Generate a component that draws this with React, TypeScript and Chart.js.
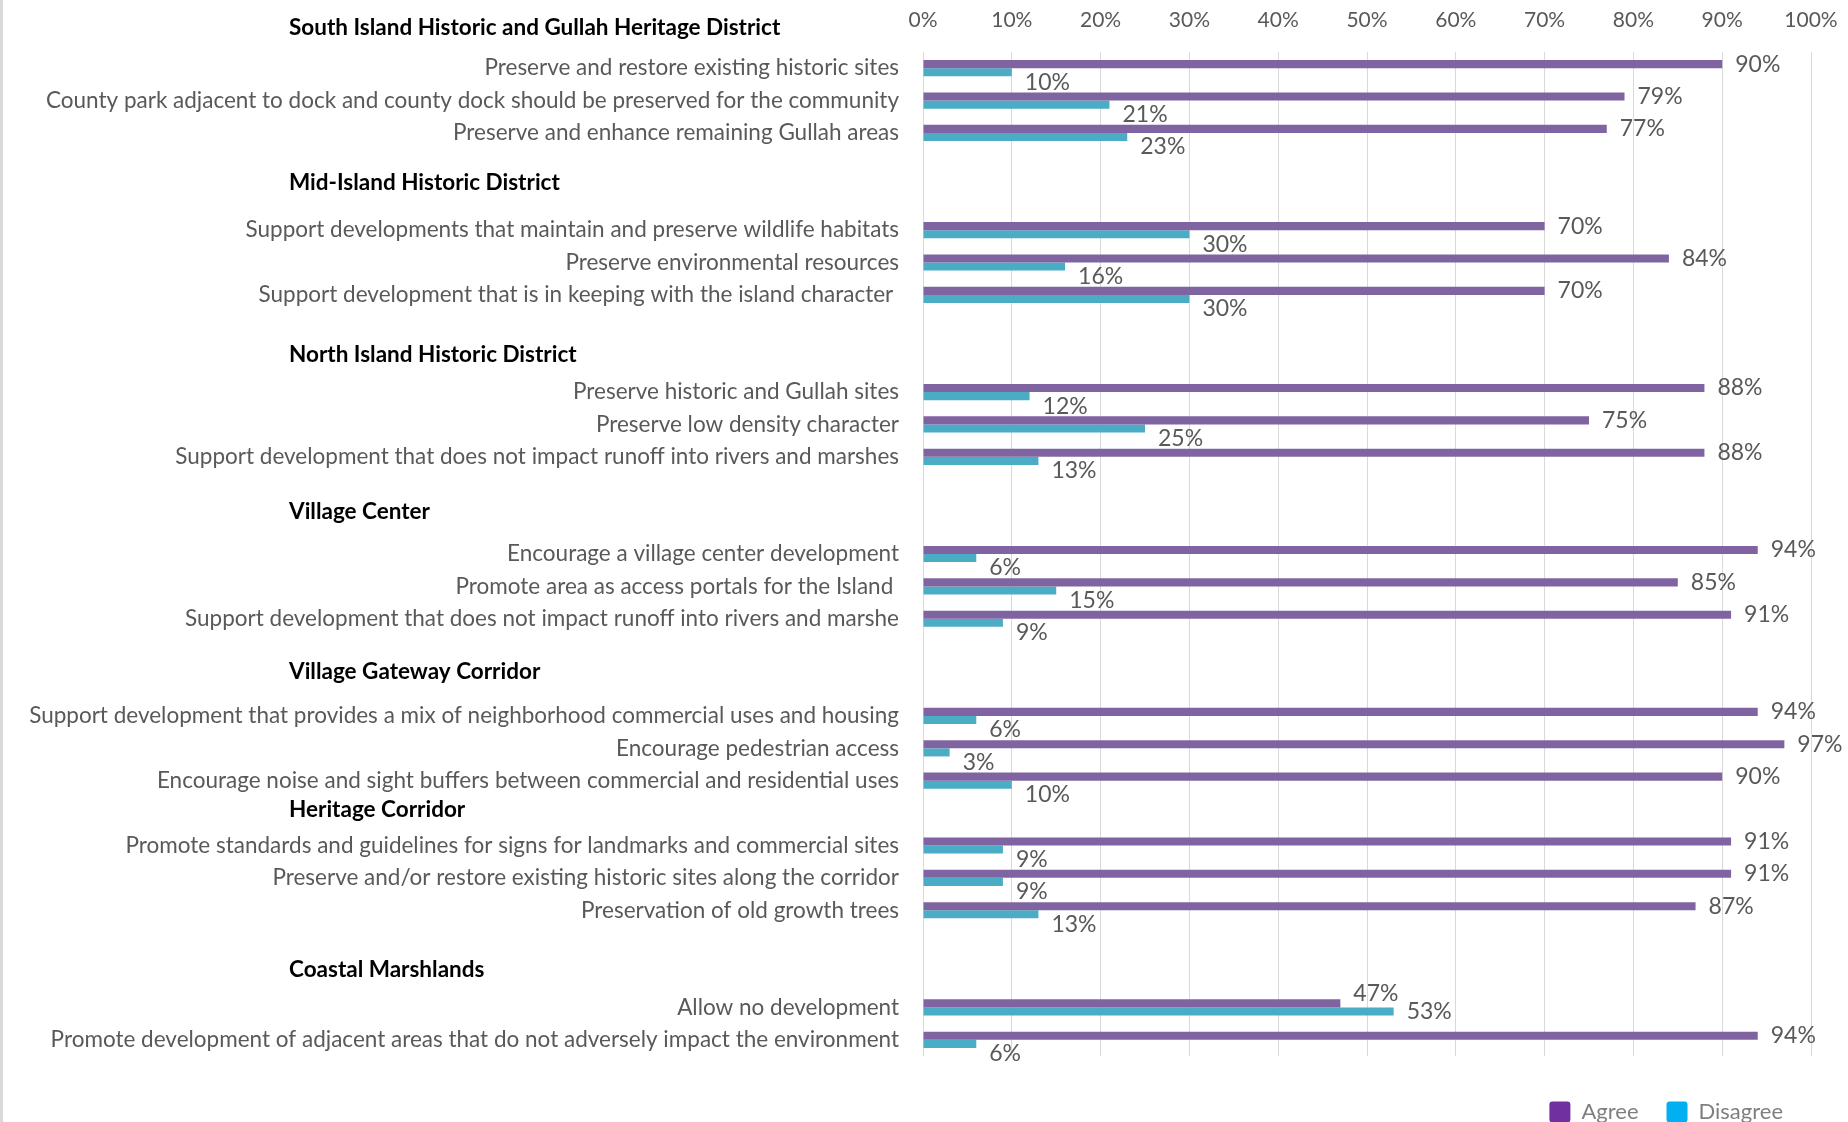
import React, { useEffect, useRef } from 'react';
import { Chart, registerables } from 'chart.js';

Chart.register(...registerables);

// ---- data ----
const categories: string[] = [
  'Preserve and restore existing historic sites',
  'County park adjacent to dock and county dock should be preserved for the community',
  'Preserve and enhance remaining Gullah areas',
  '',
  '',
  'Support developments that maintain and preserve wildlife habitats',
  'Preserve environmental resources',
  'Support development that is in keeping with the island character ',
  '',
  '',
  'Preserve historic and Gullah sites',
  'Preserve low density character',
  'Support development that does not impact runoff into rivers and marshes',
  '',
  '',
  'Encourage a village center development',
  'Promote area as access portals for the Island ',
  'Support development that does not impact runoff into rivers and marshe',
  '',
  '',
  'Support development that provides a mix of neighborhood commercial uses and housing',
  'Encourage pedestrian access',
  'Encourage noise and sight buffers between commercial and residential uses',
  '',
  'Promote standards and guidelines for signs for landmarks and commercial sites',
  'Preserve and/or restore existing historic sites along the corridor',
  'Preservation of old growth trees',
  '',
  '',
  'Allow no development',
  'Promote development of adjacent areas that do not adversely impact the environment',
];

const agree: (number | null)[] = [
  90, 79, 77, null, null, 70, 84, 70, null, null, 88, 75, 88, null, null,
  94, 85, 91, null, null, 94, 97, 90, null, 91, 91, 87, null, null, 47, 94,
];

const disagree: (number | null)[] = [
  10, 21, 23, null, null, 30, 16, 30, null, null, 12, 25, 13, null, null,
  6, 15, 9, null, null, 6, 3, 10, null, 9, 9, 13, null, null, 53, 6,
];

const sectionTitles: string[] = [
  'South Island Historic and Gullah Heritage District',
  'Mid-Island Historic District',
  'North Island Historic District',
  'Village Center',
  'Village Gateway Corridor',
  'Heritage Corridor',
  'Coastal Marshlands',
];
// category-axis value at which each section title sits
const sectionRows: number[] = [-1.25, 3.55, 8.85, 13.7, 18.65, 22.9, 27.85];

const seriesNames = ['Agree', 'Disagree'];
const xTicks = [0, 10, 20, 30, 40, 50, 60, 70, 80, 90, 100];

// ---- style ----
const BAR_COLORS = ['#8064A2', '#4BACC6'];
const LEGEND_COLORS = ['#7030A0', '#00B0F0'];
const FONT = 'Lato';
const TEXT_GRAY = '#595959';

const W = 1848;
const H = 1133;

const overlayPlugin = {
  id: 'overlay',
  beforeDraw(chart: any) {
    const { ctx } = chart;
    ctx.save();
    ctx.fillStyle = '#d9d9d9';
    ctx.fillRect(0, 0, 3, chart.height);
    ctx.restore();
  },
  afterDatasetsDraw(chart: any) {
    const { ctx } = chart;
    ctx.save();
    ctx.font = `23px ${FONT}`;
    ctx.fillStyle = TEXT_GRAY;
    ctx.textAlign = 'left';
    ctx.textBaseline = 'middle';
    chart.data.datasets.forEach((ds: any, di: number) => {
      const meta = chart.getDatasetMeta(di);
      meta.data.forEach((el: any, i: number) => {
        const v = ds.data[i];
        if (v == null) return;
        const a = agree[i] as number;
        const d = disagree[i] as number;
        let dy: number;
        if (di === 0) dy = a < d ? -10 : 0;
        else dy = a < d ? 0 : 10;
        ctx.fillText(`${v}%`, el.x + 13, el.y + dy);
      });
    });
    ctx.restore();
  },
  afterDraw(chart: any) {
    const { ctx } = chart;
    const yScale = chart.scales.y;
    ctx.save();
    ctx.font = `bold 22.5px ${FONT}`;
    ctx.fillStyle = '#000000';
    ctx.textAlign = 'left';
    ctx.textBaseline = 'middle';
    sectionTitles.forEach((t, i) => {
      ctx.fillText(t, 289, yScale.getPixelForValue(sectionRows[i]));
    });
    ctx.restore();
  },
};

export default function App() {
  const ref = useRef<HTMLCanvasElement | null>(null);

  useEffect(() => {
    document.body.style.margin = '0';
    document.body.style.overflow = 'hidden';
    document.documentElement.style.overflow = 'hidden';
    const canvas = ref.current;
    if (!canvas) return;
    const chart = new Chart(canvas, {
      type: 'bar',
      data: {
        labels: categories,
        datasets: [
          {
            label: seriesNames[0],
            data: agree,
            backgroundColor: BAR_COLORS[0],
            categoryPercentage: 0.5,
            barPercentage: 1.0,
          },
          {
            label: seriesNames[1],
            data: disagree,
            backgroundColor: BAR_COLORS[1],
            categoryPercentage: 0.5,
            barPercentage: 1.0,
          },
        ],
      },
      options: {
        indexAxis: 'y',
        responsive: true,
        maintainAspectRatio: false,
        animation: false,
        layout: { padding: { top: 0, left: 0, right: 37, bottom: 0 } },
        scales: {
          x: {
            position: 'top',
            min: 0,
            max: 100,
            afterBuildTicks: (scale: any) => {
              scale.ticks = xTicks.map((v) => ({ value: v }));
            },
            afterFit: (scale: any) => {
              scale.height = 52;
              scale.paddingLeft = 0;
              scale.paddingRight = 0;
            },
            ticks: {
              padding: 19,
              color: TEXT_GRAY,
              font: { family: FONT, size: 21 },
              callback: (v: any) => `${v}%`,
            },
            grid: { color: '#d9d9d9', drawTicks: false, lineWidth: 1 },
            border: { display: false },
          },
          y: {
            type: 'category',
            afterFit: (scale: any) => {
              scale.width = 923;
            },
            ticks: {
              padding: 24,
              color: TEXT_GRAY,
              font: { family: FONT, size: 22.5 },
              autoSkip: false,
            },
            grid: { display: false, drawTicks: false },
            border: { display: false },
          },
        },
        plugins: {
          tooltip: { enabled: false },
          legend: {
            position: 'bottom',
            align: 'end',
            title: { display: true, text: '', font: { size: 10 }, padding: { top: 0, bottom: 5 } },
            labels: {
              font: { family: FONT, size: 22 },
              color: '#7f7f7f',
              boxWidth: 21,
              boxHeight: 21,
              padding: 28,
              useBorderRadius: true,
              borderRadius: 3,
              generateLabels: (ch: any) => {
                const items = (Chart.defaults.plugins.legend.labels as any).generateLabels(ch);
                return items.map((it: any, i: number) => ({
                  ...it,
                  fillStyle: LEGEND_COLORS[i],
                  strokeStyle: LEGEND_COLORS[i],
                  lineWidth: 0,
                  borderRadius: 3,
                }));
              },
            },
          },
        },
      } as any,
      plugins: [overlayPlugin],
    });
    return () => chart.destroy();
  }, []);

  return (
    <div style={{ position: 'relative', width: W, height: H }}>
      <canvas ref={ref} />
    </div>
  );
}
